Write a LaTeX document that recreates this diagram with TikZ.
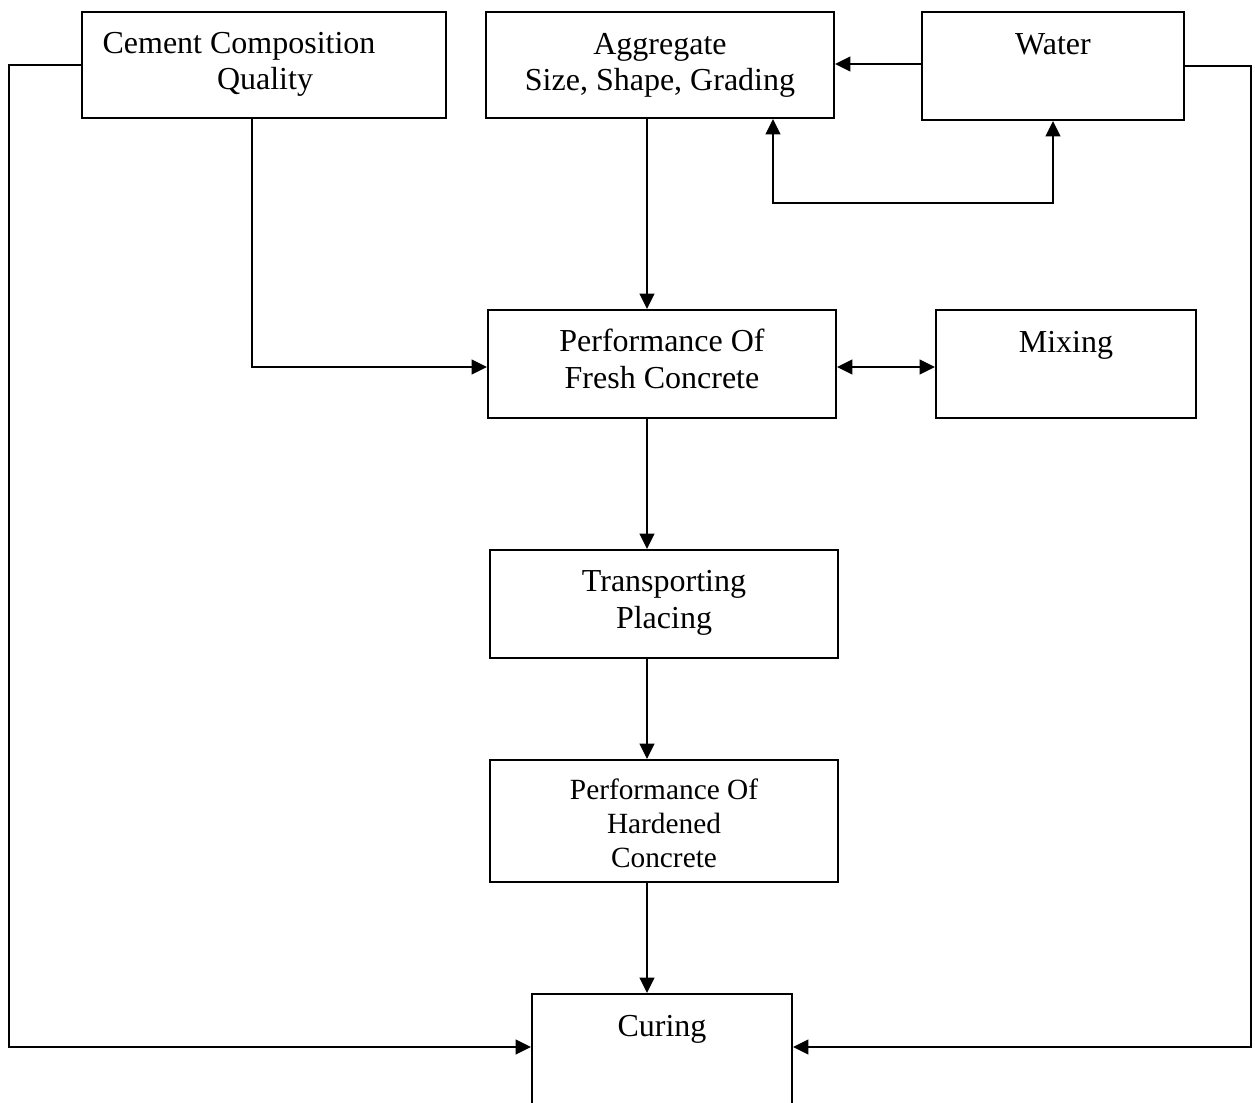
\documentclass[tikz,border=0pt]{standalone}
\usepackage{fontspec}
\setmainfont{Liberation Serif}
\usetikzlibrary{arrows.meta,calc}
\begin{document}
\begin{tikzpicture}[x=0.75pt,y=-0.75pt,
  box/.style={draw,line width=1.5pt,inner sep=0pt,fill=none},
  lbl/.style={inner sep=0pt,anchor=base,align=center,font=\fontsize{24}{27.5}\selectfont},
  lblsmall/.style={inner sep=0pt,anchor=base,align=center,font=\fontsize{22}{25.5}\selectfont},
  conn/.style={line width=1.7pt},
  arr/.style={conn,-{Triangle[length=11.5pt,width=11pt]}},
  darr/.style={conn,{Triangle[length=11.5pt,width=11pt]}-{Triangle[length=11.5pt,width=11pt]}}]
\useasboundingbox (0,0) rectangle (1255,1102);
% boxes
\node[box,minimum width=273pt,minimum height=79.5pt] (cement) at (264,65) {};
\node[box,minimum width=261pt,minimum height=79.5pt] (aggregate) at (660,65) {};
\node[box,minimum width=196.5pt,minimum height=81pt] (water) at (1053,66) {};
\node[box,minimum width=261pt,minimum height=81pt] (fresh) at (662,364) {};
\node[box,minimum width=195pt,minimum height=81pt] (mixing) at (1066,364) {};
\node[box,minimum width=261pt,minimum height=81pt] (transport) at (664,604) {};
\node[box,minimum width=261pt,minimum height=91.5pt] (hardened) at (664,821) {};
\node[box,minimum width=195pt,minimum height=120pt] (curing) at (662,1074) {};
% texts (anchor base = baseline of the last line)
\node[lbl] (cementA) at (239,54) {Cement Composition};
\node[lbl] (cementB) at (265,90) {Quality};
\node[lbl] (aggT) at (660,91) {Aggregate\\Size, Shape, Grading};
\node[lbl] (waterT) at (1053,55) {Water};
\node[lbl] (freshT) at (662,388) {Performance Of\\Fresh Concrete};
\node[lbl] (mixT) at (1066,352) {Mixing};
\node[lbl] (transT) at (664,628) {Transporting\\Placing};
\node[lblsmall] (hardT) at (664,867) {Performance Of\\Hardened\\Concrete};
\node[lbl] (curT) at (662,1036) {Curing};
% connectors
\coordinate (spine) at (647,0);
\coordinate (cdrop) at (252,367);
\coordinate (loopL) at (773,203);
\draw[arr] (cement.west) -- ++(-72,0) |- ($(curing.north west)+(0,54)$);
\draw[arr] (water.east) -- ++(66,0) |- ($(curing.north east)+(0,54)$);
\draw[arr] ($(water.west)+(0,-2)$) -- ($(water.west -| aggregate.east)+(0,-2)$);
\draw[darr] (loopL |- aggregate.south) -- (loopL) -| (water.south);
\draw[arr] (spine |- aggregate.south) -- (spine |- fresh.north);
\draw[arr] (cdrop |- cement.south) -- (cdrop) -- (cdrop -| fresh.west);
\draw[darr] ($(fresh.east)+(0,3)$) -- ($(mixing.west)+(0,3)$);
\draw[arr] (spine |- fresh.south) -- (spine |- transport.north);
\draw[arr] (spine |- transport.south) -- (spine |- hardened.north);
\draw[arr] (spine |- hardened.south) -- (spine |- curing.north);
\end{tikzpicture}
\end{document}
